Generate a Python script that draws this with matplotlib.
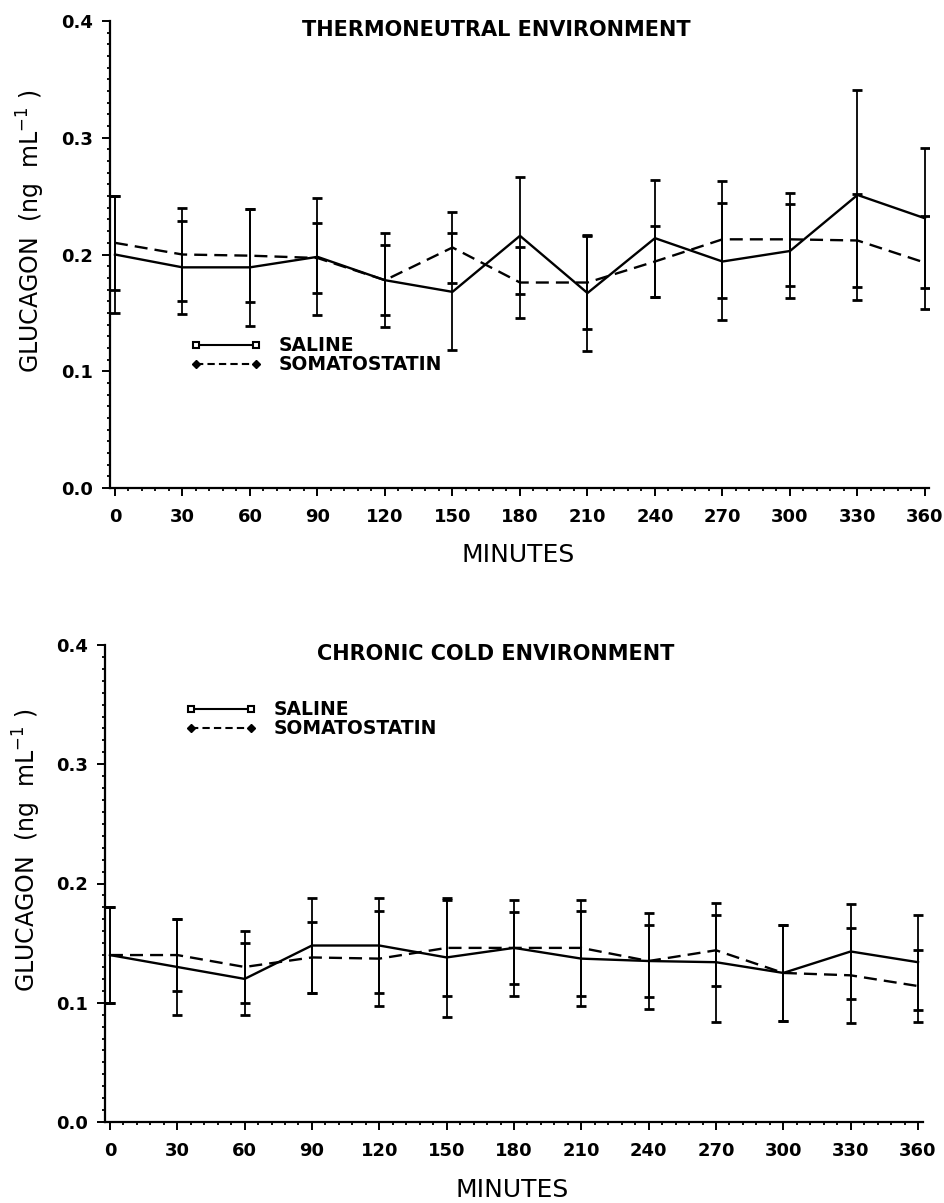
import matplotlib
matplotlib.use("Agg")
import matplotlib.pyplot as plt
from matplotlib.lines import Line2D
from matplotlib.ticker import MultipleLocator, FormatStrFormatter

# ---------------- data ----------------
minutes = [0, 30, 60, 90, 120, 150, 180, 210, 240, 270, 300, 330, 360]

# Thermoneutral environment
tn_saline = [0.200, 0.189, 0.189, 0.198, 0.178, 0.168, 0.216, 0.167, 0.214, 0.194, 0.203, 0.251, 0.231]
tn_saline_err = [0.05, 0.04, 0.05, 0.05, 0.04, 0.05, 0.05, 0.05, 0.05, 0.05, 0.04, 0.09, 0.06]
tn_somato = [0.210, 0.200, 0.199, 0.197, 0.178, 0.206, 0.176, 0.176, 0.194, 0.213, 0.213, 0.212, 0.193]
tn_somato_err = [0.04, 0.04, 0.04, 0.03, 0.03, 0.03, 0.03, 0.04, 0.03, 0.05, 0.04, 0.04, 0.04]

# Chronic cold environment
cc_saline = [0.140, 0.130, 0.120, 0.148, 0.148, 0.138, 0.146, 0.137, 0.135, 0.134, 0.125, 0.143, 0.134]
cc_saline_err = [0.04, 0.04, 0.03, 0.04, 0.04, 0.05, 0.04, 0.04, 0.04, 0.05, 0.04, 0.04, 0.04]
cc_somato = [0.140, 0.140, 0.130, 0.138, 0.137, 0.146, 0.146, 0.146, 0.135, 0.144, 0.125, 0.123, 0.114]
cc_somato_err = [0.04, 0.03, 0.03, 0.03, 0.04, 0.04, 0.03, 0.04, 0.03, 0.03, 0.04, 0.04, 0.03]

titles = ["THERMONEUTRAL ENVIRONMENT", "CHRONIC COLD ENVIRONMENT"]
series_labels = ["SALINE", "SOMATOSTATIN"]
xlabel = "MINUTES"
ylabel = "GLUCAGON  (ng  mL$^{-1}$ )"
xticks = list(range(0, 361, 30))
yticks = [0.0, 0.1, 0.2, 0.3, 0.4]

# ---------------- figure ----------------
W, H = 945, 1203
fig = plt.figure(figsize=(W / 100, H / 100), dpi=100)
fig.patch.set_facecolor("white")

ax_top = fig.add_axes([110 / W, 1 - 488 / H, (929.5 - 110) / W, (488 - 21) / H])
ax_bot = fig.add_axes([105 / W, 1 - 1122 / H, (922.5 - 105) / W, (1122 - 645) / H])

dash = (0, (5.5, 3.0))


def draw(ax, sal, sal_e, som, som_e, title, leg_xy, title_xy, ylab_xy):
    ax.errorbar(minutes, sal, yerr=sal_e, fmt="none", ecolor="black",
                elinewidth=1.3, capsize=3.5, capthick=2.0, zorder=3)
    ax.errorbar(minutes, som, yerr=som_e, fmt="none", ecolor="black",
                elinewidth=1.3, capsize=3.5, capthick=2.0, zorder=3)
    ax.plot(minutes, sal, color="black", lw=1.7, ls="-", zorder=4)
    ax.plot(minutes, som, color="black", lw=1.7, ls=dash, zorder=4)

    ax.set_xlim(-2.2, 362)
    ax.set_ylim(0, 0.4)
    for s in ("top", "right"):
        ax.spines[s].set_visible(False)
    for s in ("left", "bottom"):
        ax.spines[s].set_linewidth(1.6)

    ax.set_xticks(xticks)
    ax.set_xticklabels([str(t) for t in xticks])
    ax.xaxis.set_minor_locator(MultipleLocator(6))
    ax.set_yticks(yticks)
    ax.yaxis.set_major_formatter(FormatStrFormatter("%.1f"))
    ax.yaxis.set_minor_locator(MultipleLocator(0.01))
    ax.tick_params(axis="both", which="major", direction="out", length=5.5,
                   width=1.4, labelsize=13, color="black")
    ax.tick_params(axis="both", which="minor", direction="out", length=2.5,
                   width=1.3, color="black")
    ax.tick_params(axis="x", which="major", pad=9)
    ax.tick_params(axis="y", which="major", pad=7)
    for lab in ax.get_xticklabels() + ax.get_yticklabels():
        lab.set_fontweight("bold")

    ax.set_xlabel(xlabel, fontsize=18)
    ax.xaxis.set_label_coords(0.498, -0.118)
    ax.set_ylabel(ylabel, fontsize=17)
    ax.yaxis.set_label_coords(*ylab_xy)

    ax.text(title_xy[0], title_xy[1], title, transform=ax.transAxes,
            ha="center", va="center", fontsize=15, fontweight="bold")

    handles = [
        Line2D([0], [0], color="black", lw=1.5, ls="-", marker="s",
               markersize=5, markerfacecolor="white", markeredgewidth=1.5),
        Line2D([0], [0], color="black", lw=1.5, ls=(0, (3.5, 2)), marker="D",
               markersize=4.5, markerfacecolor="black"),
    ]
    ax.legend(handles, series_labels, loc="upper left",
              bbox_to_anchor=leg_xy, frameon=False, numpoints=2,
              handlelength=3.8, handletextpad=0.9, labelspacing=0.0,
              borderpad=0, borderaxespad=0,
              prop={"size": 13.5, "weight": "bold"})


draw(ax_top, tn_saline, tn_saline_err, tn_somato, tn_somato_err,
     titles[0], (0.098, 0.325), (0.471, 0.981), (-0.077, 0.55))
draw(ax_bot, cc_saline, cc_saline_err, cc_somato, cc_somato_err,
     titles[1], (0.098, 0.884), (0.478, 0.981), (-0.076, 0.57))

fig.savefig("out.png", dpi=100, facecolor="white")
